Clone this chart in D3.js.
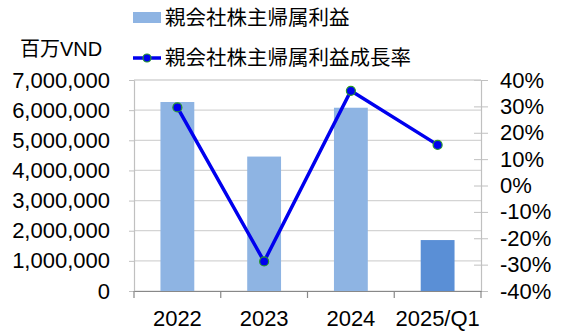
<!DOCTYPE html>
<html>
<head>
<meta charset="utf-8">
<script src="https://cdn.jsdelivr.net/npm/d3@7"></script>
<style>
  html, body { margin: 0; padding: 0; background: #fff; }
  svg text { font-family: "Liberation Sans", Arial, "Noto Sans CJK JP", sans-serif; fill: #000; }
</style>
</head>
<body>
<svg id="chart" width="563" height="334"></svg>
<script>
// Net profit attributable to parent-company shareholders (million VND) and its growth rate
const categories = ["2022", "2023", "2024", "2025/Q1"];
const profit = [6270000, 4460000, 6080000, 1690000];
const growth = [0.296, -0.288, 0.359, 0.154];
const leftTicks = [0, 1000000, 2000000, 3000000, 4000000, 5000000, 6000000, 7000000];
const rightTicks = [-0.4, -0.3, -0.2, -0.1, 0, 0.1, 0.2, 0.3, 0.4];
const seriesNames = ["親会社株主帰属利益", "親会社株主帰属利益成長率"];
const unitLabel = "百万VND";

const svg = d3.select("#chart");
const plot = { left: 134, right: 481, top: 80, bottom: 291 };

const x = d3.scaleBand().domain(categories).range([plot.left, plot.right]).paddingInner(0.61).paddingOuter(0.305);
const xBand = d3.scaleBand().domain(categories).range([plot.left, plot.right]);
const yL = d3.scaleLinear().domain([0, 7000000]).range([plot.bottom, plot.top]);
const yR = d3.scaleLinear().domain([-0.4, 0.4]).range([plot.bottom, plot.top]);

// horizontal gridlines
svg.append("g").selectAll("line").data(leftTicks).join("line")
  .attr("x1", plot.left).attr("x2", plot.right)
  .attr("y1", d => yL(d)).attr("y2", d => yL(d))
  .attr("stroke", "#d4d4d4").attr("stroke-width", 1.2);

// bars
const fmt = d3.format(",");
svg.append("g").selectAll("rect").data(categories).join("rect")
  .attr("x", d => x(d)).attr("width", x.bandwidth())
  .attr("y", (d, i) => yL(profit[i]))
  .attr("height", (d, i) => yL(0) - yL(profit[i]))
  .attr("fill", (d, i) => i === categories.length - 1 ? "#5a8fd6" : "#8eb4e3");

// left axis
const gL = svg.append("g").attr("transform", `translate(${plot.left},0)`)
  .call(d3.axisLeft(yL).tickValues(leftTicks).tickFormat(fmt).tickSize(5).tickPadding(19));
gL.select(".domain").attr("stroke", "#c0c0c0").attr("stroke-width", 1.2);
gL.selectAll(".tick line").attr("stroke", "#c0c0c0");
gL.selectAll("text").attr("font-size", 22);

// right axis (percent labels with a plain hyphen for negatives)
const pct = v => Math.round(v * 100) + "%";
const gR = svg.append("g").attr("transform", `translate(${plot.right},0)`)
  .call(d3.axisRight(yR).tickValues(rightTicks).tickFormat(pct).tickSize(7).tickPadding(12));
gR.select(".domain").attr("stroke", "#c0c0c0").attr("stroke-width", 1.2);
gR.selectAll(".tick line").attr("stroke", "#c0c0c0").attr("x1", -7);
gR.selectAll("text").attr("font-size", 22);

// bottom axis with ticks at band boundaries
const gB = svg.append("g").attr("transform", `translate(0,${plot.bottom})`)
  .call(d3.axisBottom(x).tickSize(0).tickPadding(19));
gB.select(".domain").attr("stroke", "#888").attr("stroke-width", 1.2);
gB.selectAll("text").attr("font-size", 22);
gB.selectAll("line.sep").data([...categories.map(d => xBand(d)), plot.right]).join("line")
  .attr("class", "sep")
  .attr("x1", d => d).attr("x2", d => d).attr("y1", 0).attr("y2", 7)
  .attr("stroke", "#888").attr("stroke-width", 1.2);

// top border
svg.append("line").attr("x1", plot.left).attr("x2", plot.right)
  .attr("y1", plot.top).attr("y2", plot.top).attr("stroke", "#d4d4d4").attr("stroke-width", 1.2);

// growth line
const cx = d => x(d) + x.bandwidth() / 2;
svg.append("path")
  .datum(categories)
  .attr("d", d3.line().x(cx).y((d, i) => yR(growth[i])))
  .attr("fill", "none").attr("stroke", "#0000ee").attr("stroke-width", 3.5);
svg.append("g").selectAll("circle").data(categories).join("circle")
  .attr("cx", cx).attr("cy", (d, i) => yR(growth[i])).attr("r", 4.5)
  .attr("fill", "#0000ee").attr("stroke", "#2a9a2a").attr("stroke-width", 1.2);

// unit label
svg.append("text").attr("x", 20).attr("y", 56).attr("font-size", 20).text(unitLabel);

// legend
svg.append("rect").attr("x", 133).attr("y", 12).attr("width", 28).attr("height", 11).attr("fill", "#8eb4e3");
svg.append("text").attr("x", 165).attr("y", 25).attr("font-size", 20.5).text(seriesNames[0]);
svg.append("line").attr("x1", 133).attr("x2", 161).attr("y1", 58).attr("y2", 58)
  .attr("stroke", "#0000ee").attr("stroke-width", 3.5);
svg.append("circle").attr("cx", 147).attr("cy", 58).attr("r", 4)
  .attr("fill", "#0000ee").attr("stroke", "#2a9a2a").attr("stroke-width", 1.2);
svg.append("text").attr("x", 165).attr("y", 65).attr("font-size", 20.5).text(seriesNames[1]);
</script>
</body>
</html>
